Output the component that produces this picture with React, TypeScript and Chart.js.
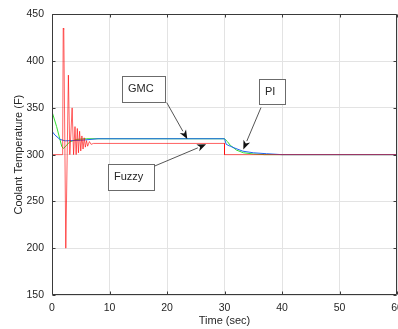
import { useEffect, useRef } from 'react';
import { Chart, registerables } from 'chart.js';

Chart.register(...registerables);

// ---- data ----
const fuzzyTime = [0, 1.85, 1.95, 2.05, 2.4, 2.85, 3.1, 3.5, 3.75, 4.0, 4.2, 4.4, 4.6, 4.8, 5.0, 5.2, 5.4, 5.6, 5.8, 6.0, 6.2, 6.5, 6.8, 7.2, 30, 30, 60];
const fuzzyTemp = [300, 300, 435, 434, 200, 385, 300, 350, 300, 330, 300, 328, 302, 325, 304, 320, 306, 318, 308, 315, 309, 314, 311, 312, 312, 300, 300];

const gmcTime = [0, 0.5, 1.4, 2.3, 5, 8, 30, 30.3, 31, 32, 33.2, 35, 37.3, 40, 60];
const gmcTemp = [325, 321, 316.2, 314.8, 315.3, 317, 317, 311, 309, 306.5, 303.7, 302, 301, 300, 300];

const piTime = [0, 0.8, 1.7, 2.0, 3.1, 4.3, 6, 30, 30.5, 31, 32.1, 33.3, 35, 37, 60];
const piTemp = [346, 330, 308.7, 306.6, 313.7, 316.3, 317, 317, 314, 310, 304.8, 302, 300.7, 300, 300];

const xTicks = [0, 10, 20, 30, 40, 50, 60];
const yTicks = [150, 200, 250, 300, 350, 400, 450];

const seriesNames = ['Fuzzy', 'GMC', 'PI'];
const seriesColors = ['rgba(255,0,0,0.62)', '#2266ee', '#33dd33'];

// annotation text boxes with arrows (box corner, arrow tail and tip in data units)
const annotations = [
  { label: 'GMC', boxT: 12.12, boxV: 384.1, w: 43, h: 26, tailT: 19.95, tailV: 355.7, tipT: 23.53, tipV: 316.6 },
  { label: 'Fuzzy', boxT: 9.79, boxV: 289.9, w: 46, h: 26, tailT: 17.8, tailV: 287.7, tipT: 26.8, tipV: 311 },
  { label: 'PI', boxT: 36.05, boxV: 380.6, w: 26, h: 25, tailT: 36.35, tailV: 350.4, tipT: 33.27, tipV: 305.6 },
];

const FONT = '"Liberation Sans", Arial, Helvetica, sans-serif';

function toPoints(t: number[], v: number[]) {
  return t.map((x, i) => ({ x, y: v[i] }));
}

const framePlugin = {
  id: 'frame',
  afterDatasetsDraw(chart: any) {
    const { ctx, chartArea, scales } = chart;
    const { left, right, top, bottom } = chartArea;
    const xs = scales.x;
    const ys = scales.y;
    ctx.save();
    // box
    ctx.strokeStyle = '#3a3a3a';
    ctx.lineWidth = 1;
    const L = Math.round(left) + 0.5;
    const R = Math.round(right) - 0.5;
    const T = Math.round(top) + 0.5;
    const B = Math.round(bottom) - 0.5;
    ctx.beginPath();
    ctx.rect(L, T, R - L, B - T);
    ctx.stroke();
    // inward ticks
    const tl = 3;
    ctx.beginPath();
    xTicks.forEach((t) => {
      const px = Math.round(xs.getPixelForValue(t)) + 0.5;
      ctx.moveTo(px, B);
      ctx.lineTo(px, B - tl);
      ctx.moveTo(px, T);
      ctx.lineTo(px, T + tl);
    });
    yTicks.forEach((v) => {
      const py = Math.round(ys.getPixelForValue(v)) + 0.5;
      ctx.moveTo(L, py);
      ctx.lineTo(L + tl, py);
      ctx.moveTo(R, py);
      ctx.lineTo(R - tl, py);
    });
    ctx.stroke();

    // annotations
    annotations.forEach((a) => {
      const bx = Math.round(xs.getPixelForValue(a.boxT)) + 0.5;
      const by = Math.round(ys.getPixelForValue(a.boxV)) + 0.5;
      ctx.fillStyle = '#ffffff';
      ctx.fillRect(bx, by, a.w, a.h);
      ctx.strokeStyle = '#6b6b6b';
      ctx.lineWidth = 1;
      ctx.strokeRect(bx, by, a.w, a.h);
      ctx.fillStyle = '#262626';
      ctx.font = `11px ${FONT}`;
      ctx.textAlign = 'left';
      ctx.textBaseline = 'middle';
      ctx.fillText(a.label, bx + 5.5, by + a.h / 2 - 0.5);

      const x0 = xs.getPixelForValue(a.tailT);
      const y0 = ys.getPixelForValue(a.tailV);
      const x1 = xs.getPixelForValue(a.tipT);
      const y1 = ys.getPixelForValue(a.tipV);
      const ang = Math.atan2(y1 - y0, x1 - x0);
      const hl = 9;
      const hw = 3.6;
      const bxh = x1 - hl * Math.cos(ang);
      const byh = y1 - hl * Math.sin(ang);
      ctx.strokeStyle = '#555555';
      ctx.beginPath();
      ctx.moveTo(x0, y0);
      ctx.lineTo(bxh, byh);
      ctx.stroke();
      ctx.fillStyle = '#111111';
      ctx.beginPath();
      ctx.moveTo(x1, y1);
      ctx.lineTo(bxh + hw * Math.sin(ang), byh - hw * Math.cos(ang));
      ctx.lineTo(x1 - (hl - 2.5) * Math.cos(ang), y1 - (hl - 2.5) * Math.sin(ang));
      ctx.lineTo(bxh - hw * Math.sin(ang), byh + hw * Math.cos(ang));
      ctx.closePath();
      ctx.fill();
    });
    ctx.restore();
  },
};

export default function App() {
  const ref = useRef<HTMLCanvasElement | null>(null);
  useEffect(() => {
    if (!ref.current) return;
    const datasets = [
      { t: fuzzyTime, v: fuzzyTemp },
      { t: gmcTime, v: gmcTemp },
      { t: piTime, v: piTemp },
    ].map((s, i) => ({
      label: seriesNames[i],
      data: toPoints(s.t, s.v),
      borderColor: seriesColors[i],
      backgroundColor: seriesColors[i],
      borderWidth: 1,
      pointRadius: 0,
      tension: 0,
      fill: false,
    }));
    const chart = new Chart(ref.current, {
      type: 'line',
      data: { datasets },
      options: {
        animation: false,
        responsive: false,
        devicePixelRatio: 1,
        layout: { padding: { top: 14, right: 23, left: 0, bottom: 0 } },
        plugins: { legend: { display: false }, tooltip: { enabled: false } },
        scales: {
          x: {
            type: 'linear',
            min: 0,
            max: 60,
            afterFit: (s: any) => { s.height = 34; },
            afterBuildTicks: (s: any) => { s.ticks = xTicks.map((v) => ({ value: v })); },
            grid: { color: '#e3e3e3', drawTicks: false },
            border: { display: false },
            ticks: { color: '#262626', font: { family: FONT, size: 10.5 }, padding: 7, maxRotation: 0 },
            title: { display: true, text: 'Time (sec)', color: '#262626', font: { family: FONT, size: 11 }, padding: { top: 0, bottom: 1 } },
          },
          y: {
            type: 'linear',
            min: 150,
            max: 450,
            afterFit: (s: any) => { s.width = 52; },
            afterBuildTicks: (s: any) => { s.ticks = yTicks.map((v) => ({ value: v })); },
            grid: { color: '#e3e3e3', drawTicks: false },
            border: { display: false },
            ticks: { color: '#262626', font: { family: FONT, size: 10.5 }, padding: 8 },
            title: { display: true, text: 'Coolant Temperature (F)', color: '#262626', font: { family: FONT, size: 11 }, padding: { top: 12, bottom: 0 } },
          },
        },
      },
      plugins: [framePlugin],
    });
    return () => chart.destroy();
  }, []);
  return (
    <div style={{ position: 'fixed', left: 0, top: 0, width: 420, height: 329, background: '#fff' }}>
      <canvas ref={ref} width={420} height={329} style={{ display: 'block', width: 420, height: 329 }} />
    </div>
  );
}
